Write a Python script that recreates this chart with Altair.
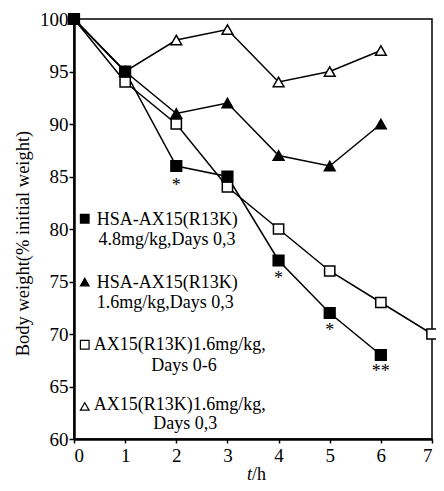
import altair as alt
import pandas as pd

# ---- data ----
t_hours = [0, 1, 2, 3, 4, 5, 6, 7]
hsa_48 = [100, 95, 86, 85, 77, 72, 68]          # filled square
hsa_16 = [100, 95, 91, 92, 87, 86, 90]          # filled triangle
ax15_days06 = [100, 94, 90, 84, 80, 76, 73, 70]  # open square
ax15_days03 = [100, 95, 98, 99, 94, 95, 97]      # open triangle

series_keys = ["hsa48", "hsa16", "ax06", "ax03"]
series_vals = [hsa_48, hsa_16, ax15_days06, ax15_days03]

# significance marks
star_t = [2, 4, 5, 6]
star_y = [84.1, 75.2, 70.3, 66.4]
star_txt = ["*", "*", "*", "**"]

# in-plot legend (data units)
leg_sym_x = [0.21, 0.21, 0.21, 0.21]
leg_sym_y = [80.98, 74.95, 68.98, 63.1]
leg_text = ["HSA-AX15(R13K)", "4.8mg/kg,Days 0,3",
            "HSA-AX15(R13K)", "1.6mg/kg,Days 0,3",
            "AX15(R13K)1.6mg/kg,", "Days 0-6",
            "AX15(R13K)1.6mg/kg,", "Days 0,3"]
leg_text_x = [0.446, 0.48, 0.446, 0.446, 0.388, 1.51, 0.388, 1.55]
leg_text_y = [80.9, 78.95, 74.88, 72.95, 68.98, 66.94, 63.25, 61.4]

x_ticks = [0, 1, 2, 3, 4, 5, 6, 7]
y_ticks = [60, 65, 70, 75, 80, 85, 90, 95, 100]

rows = []
for k, vals in zip(series_keys, series_vals):
    for t, v in zip(t_hours, vals):
        rows.append({"series": k, "t": t, "w": v})
df = pd.DataFrame(rows)

FONT = "Liberation Serif"
xs = alt.Scale(domain=[0, 7], nice=False)
ys = alt.Scale(domain=[60, 100], nice=False, zero=False)

x_axis = alt.Axis(values=x_ticks, title=None, format="d", grid=False,
                  tickSize=4, tickColor="black", tickWidth=1.5,
                  domainColor="black", domainWidth=2.5,
                  labelFont=FONT, labelFontSize=19, labelColor="black", labelPadding=3)
y_axis = alt.Axis(values=y_ticks, title="Body weight(% initial weight)", format="d", grid=False,
                  tickSize=5, tickColor="black", tickWidth=1.5,
                  domainColor="black", domainWidth=2.5,
                  labelFont=FONT, labelFontSize=19, labelColor="black", labelPadding=1,
                  titleFont=FONT, titleFontSize=18.5, titleFontWeight="normal", titleColor="black",
                  titleX=-52, titleY=224, titleAngle=270, titleAlign="center", titleBaseline="middle")

X = alt.X("t:Q", scale=xs, axis=x_axis)
Y = alt.Y("w:Q", scale=ys, axis=y_axis)

lines = alt.Chart(df).mark_line(color="black", strokeWidth=1.5, clip=False).encode(
    x=X, y=Y, detail="series:N")

styles = {
    "ax03": dict(shape="triangle-up", fill="white", size=115),
    "ax06": dict(shape="square", fill="white", size=105),
    "hsa16": dict(shape="triangle-up", fill="black", size=115),
    "hsa48": dict(shape="square", fill="black", size=115),
}
point_layers = []
for k in ["ax03", "ax06", "hsa16", "hsa48"]:
    s = styles[k]
    point_layers.append(
        alt.Chart(df[df.series == k]).mark_point(
            shape=s["shape"], filled=True, fill=s["fill"], stroke="black",
            strokeWidth=1.5, size=s["size"], opacity=1, clip=False
        ).encode(x=alt.X("t:Q", scale=xs), y=alt.Y("w:Q", scale=ys))
    )

stars_df = pd.DataFrame({"t": star_t, "w": star_y, "txt": star_txt})
stars = alt.Chart(stars_df).mark_text(font=FONT, fontSize=18, baseline="middle",
                                       align="center", color="black").encode(
    x=alt.X("t:Q", scale=xs), y=alt.Y("w:Q", scale=ys), text="txt:N")

sym_df = pd.DataFrame({"x": leg_sym_x, "y": leg_sym_y, "key": ["hsa48", "hsa16", "ax06", "ax03"]})
sym_layers = []
for k in ["hsa48", "hsa16", "ax06", "ax03"]:
    s = styles[k]
    sym_layers.append(
        alt.Chart(sym_df[sym_df.key == k]).mark_point(
            shape=s["shape"], filled=True, fill=s["fill"], stroke="black",
            strokeWidth=1.2, size=75, opacity=1
        ).encode(x=alt.X("x:Q", scale=xs), y=alt.Y("y:Q", scale=ys))
    )

leg_df = pd.DataFrame({"x": leg_text_x, "y": leg_text_y, "txt": leg_text})
leg = alt.Chart(leg_df).mark_text(font=FONT, fontSize=18, align="left", baseline="middle",
                                   color="black").encode(
    x=alt.X("x:Q", scale=xs), y=alt.Y("y:Q", scale=ys), text="txt:N")

one = pd.DataFrame({"a": [0]})
t_it = alt.Chart(one).mark_text(text="t", font=FONT, fontSize=18, fontStyle="italic",
                                align="right", baseline="middle", color="black").encode(
    x=alt.value(178), y=alt.value(456))
t_h = alt.Chart(one).mark_text(text="/h", font=FONT, fontSize=18,
                               align="left", baseline="middle", color="black").encode(
    x=alt.value(178), y=alt.value(456))

chart = alt.layer(lines, *point_layers, stars, *sym_layers, leg, t_it, t_h).properties(
    width=358, height=420,
    autosize=alt.AutoSizeParams(type="none"),
    padding={"left": 66, "top": 11, "right": 4, "bottom": 44},
    background="white",
).configure_view(stroke="black", strokeWidth=1.5)

chart.save("out.html", embed_options={"renderer": "svg", "actions": False})
